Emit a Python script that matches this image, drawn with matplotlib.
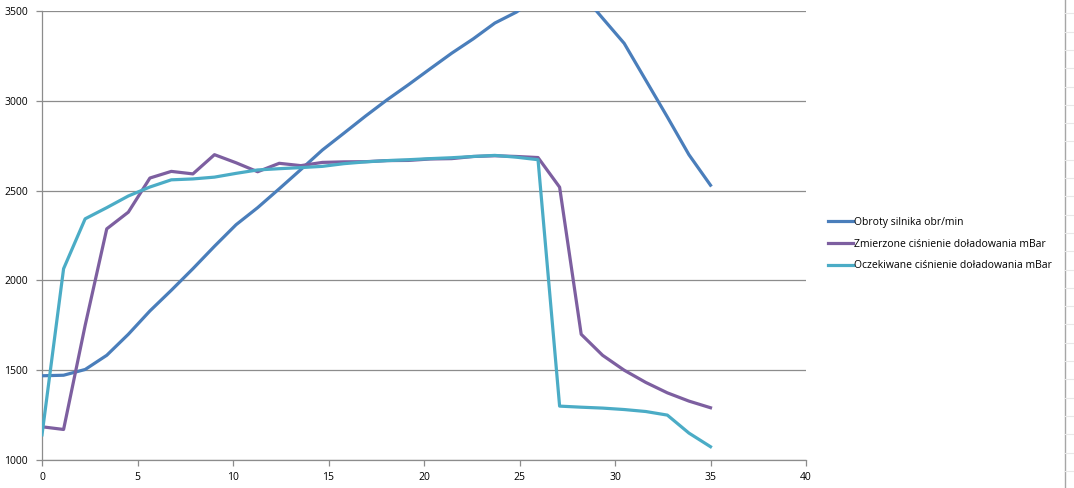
import matplotlib
matplotlib.use("Agg")
import matplotlib.pyplot as plt
from matplotlib.lines import Line2D

# ---- data ----
time_s = [0, 1.13, 2.26, 3.39, 4.52, 5.65, 6.77, 7.9, 9.03, 10.16, 11.29, 12.42,
          13.55, 14.68, 15.81, 16.94, 18.06, 19.19, 20.32, 21.45, 22.58, 23.71,
          24.84, 25.97, 27.1, 28.23, 29.35, 30.48, 31.61, 32.74, 33.87, 35.0]

obroty = [1469, 1472, 1504, 1583, 1700, 1830, 1945, 2065, 2190, 2310, 2405, 2510,
          2617, 2726, 2820, 2915, 3005, 3090, 3178, 3265, 3345, 3433,
          3494, 3580, 3630, 3600, 3460, 3320, 3115, 2910, 2700, 2530]

zmierzone = [1185, 1170, 1750, 2287, 2380, 2570, 2607, 2593, 2700, 2655, 2605, 2652,
             2639, 2657, 2660, 2661, 2667, 2668, 2676, 2678, 2690, 2694,
             2690, 2684, 2519, 1700, 1583, 1500, 1432, 1374, 1328, 1291]

oczekiwane = [1140, 2065, 2343, 2405, 2470, 2520, 2560, 2565, 2575, 2596, 2615, 2622,
              2628, 2635, 2650, 2660, 2667, 2672, 2678, 2683, 2690, 2696,
              2686, 2672, 1300, 1294, 1289, 1281, 1270, 1250, 1150, 1074]

labels = ["Obroty silnika obr/min",
          "Zmierzone ciśnienie doładowania mBar",
          "Oczekiwane ciśnienie doładowania mBar"]

x_ticks = [0, 5, 10, 15, 20, 25, 30, 35, 40]
y_ticks = [1000, 1500, 2000, 2500, 3000, 3500]

colors = ["#4A7EBB", "#7D5FA0", "#4BACC6"]

plt.rcParams['font.family'] = ['Open Sans', 'DejaVu Sans']

W, H = 1074, 488
fig = plt.figure(figsize=(W / 100, H / 100), dpi=100)
fig.patch.set_facecolor("white")

ax = fig.add_axes([42 / W, 28 / H, (806 - 42) / W, (460 - 11) / H])
ax.set_xlim(0, 40)
ax.set_ylim(1000, 3500)

for ys, c, lab in zip([obroty, zmierzone, oczekiwane], colors, labels):
    ax.plot(time_s, ys, color=c, lw=2.3, label=lab, solid_joinstyle="round", zorder=3)

ax.set_xticks(x_ticks)
ax.set_yticks(y_ticks)
ax.yaxis.grid(True, color="#8c8c8c", lw=0.9)
ax.set_axisbelow(True)
for s in ["top", "right"]:
    ax.spines[s].set_visible(False)
for s in ["left", "bottom"]:
    ax.spines[s].set_color("#8c8c8c")
    ax.spines[s].set_linewidth(0.9)
ax.tick_params(axis="both", colors="#8c8c8c", labelcolor="black", labelsize=7.5,
               length=4, width=0.9, direction="out")
ax.tick_params(axis="y", pad=6)
ax.tick_params(axis="x", pad=5)

ax.legend(loc="center left", bbox_to_anchor=(1.023, 0.481), frameon=False,
          fontsize=7.5, handlelength=2.4, handletextpad=0.15, labelspacing=1.05,
          borderaxespad=0)

# spreadsheet edge at the right side of the screenshot
fig.add_artist(Line2D([1064.5 / W, 1064.5 / W], [0, 1], color="#a6a6a6", lw=1.0,
                      transform=fig.transFigure))
row_y = 13.3
while row_y < H:
    fig.add_artist(Line2D([1065 / W, 1.0], [1 - row_y / H, 1 - row_y / H],
                          color="#e8e8e8", lw=0.8, transform=fig.transFigure))
    row_y += 18.3

fig.savefig("out.png", dpi=100, facecolor="white")
